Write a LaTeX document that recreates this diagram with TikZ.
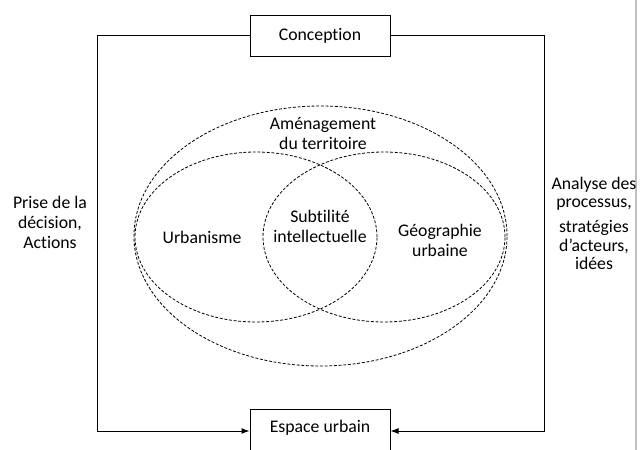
\documentclass[tikz,border=0pt]{standalone}
\usepackage{fontspec}
\setmainfont{Carlito}[Ligatures={NoCommon,NoContextual}]
\usetikzlibrary{arrows.meta,calc}
\begin{document}
\begin{tikzpicture}[x=0.75pt,y=-0.75pt,
  txt/.style={font=\fontsize{13.3}{15}\selectfont, align=center, inner sep=0pt},
  box/.style={draw, line width=0.75pt, minimum width=105pt, font=\fontsize{13.3}{15}\selectfont, inner sep=0pt},
  conn/.style={line width=0.75pt},
  venn/.style={line width=0.6pt, dash pattern=on 2.2pt off 1.3pt},
  tip/.style={-{Latex[length=6pt,width=4.5pt]}}]
\useasboundingbox (0,0) rectangle (640,450);
\clip (0,0) rectangle (640,450);
\fill[white] (0,0) rectangle (640,450);
% page edge line
\draw[line width=1.1pt, black!25] (636,0) -- (636,450);
% boxes
\node[box, minimum height=30.75pt] (con) at (320,35.5) {Conception};
\node[box, minimum height=33pt, text depth=6.5pt] (esp) at (320,431) {Espace urbain};
% corner coordinates
\coordinate (lt) at (97,35.5);
\coordinate (rt) at (544,35.5);
% connectors
\draw[conn, tip] (con.west) -- (lt) |- (esp.west);
\draw[conn, tip] (con.east) -- (rt) |- (esp.east);
% venn ellipses
\draw[venn] (320.5,236) ellipse [x radius=139.9pt, y radius=97.5pt];
\draw[venn] (256,237) ellipse [x radius=90.75pt, y radius=63.75pt];
\draw[venn] (384,237) ellipse [x radius=90.75pt, y radius=63.75pt];
% labels
\node[txt] (amen) at (323,134) {Aménagement\\du territoire};
\node[txt] (urb) at (202,237) {Urbanisme};
\node[txt] (sub) at (320,226) {Subtilité\\intellectuelle};
\node[txt] (geo) at (440,240) {Géographie\\urbaine};
\node[txt, font=\fontsize{13.3}{15}\selectfont] (left) at (50,222) {Prise de la\\décision,\\Actions};
\node[txt, font=\fontsize{13.3}{13.8}\selectfont] (r1) at (594,194) {Analyse des\\processus,};
\node[txt, font=\fontsize{13.3}{13.8}\selectfont] (r2) at (594,245) {stratégies\\d’acteurs,\\idées};
\end{tikzpicture}
\end{document}
